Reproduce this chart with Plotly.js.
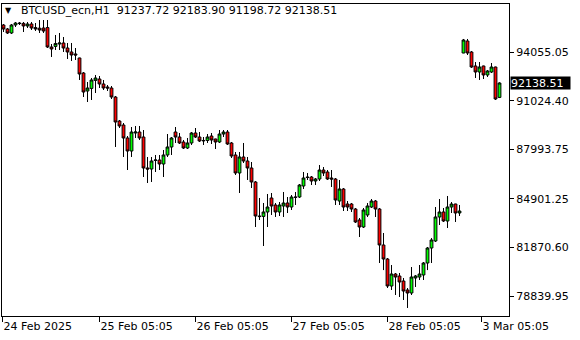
<!DOCTYPE html>
<html>
<head>
<meta charset="utf-8">
<script src="https://cdn.plot.ly/plotly-3.0.1.min.js"></script>
<style>
  html, body { margin: 0; padding: 0; background: #fff; }
  #chart { width: 580px; height: 340px; }
</style>
</head>
<body>
<div id="chart"></div>
<script>
// ---- Data (BTCUSD_ecn, H1) ----
const symbolTitle = "BTCUSD_ecn,H1";

const openP = [
95759, 95510, 95260, 95759, 95884, 95860, 95697, 95822, 95600, 95560,
95570, 95600, 94386, 94420, 94573, 94636, 94323, 94074, 93950, 93700,
92763, 91639, 91800, 92300, 92388, 92076, 91888, 91826, 91264, 89766,
89516, 88705, 87893, 89017, 89079, 88767, 86832, 86769, 87300, 87331,
87082, 87644, 88143, 89079, 88767, 88455, 88080, 88393, 89017, 88767,
88520, 88550, 88829, 88642, 88455, 88954, 89079, 88393, 87644, 86520,
87519, 87269, 86832, 85958, 83835, 83810, 84085, 84959, 84522, 84085,
84460, 84647, 84397, 85021, 85021, 85708, 86270, 86270, 86020, 86145,
86707, 86582, 86207, 86145, 84771, 85521, 84584, 84584, 84272, 83585,
83148, 83898, 84397, 84771, 84272, 82025, 81150, 79465, 80214, 80089,
79777, 79215, 79028, 79965, 80027, 80152, 80901, 81837, 82274, 83773,
84085, 83523, 84397, 84584, 84022, 94011, 94761, 94074, 93200, 92825,
93200, 92638, 92825, 93137, 91237.72
];

const highP = [
95822, 95572, 95822, 95947, 95947, 95947, 95947, 95947, 95884, 96071,
96071, 96071, 94573, 95135, 95260, 95010, 94636, 94636, 94323, 93720,
92825, 92201, 92451, 92638, 92575, 92326, 92013, 91951, 91327, 89828,
89641, 88829, 89391, 89454, 89454, 89204, 87519, 87519, 87644, 87644,
87955, 88954, 88767, 89391, 89017, 88580, 88705, 89079, 89329, 89079,
88767, 88954, 89017, 88660, 89204, 89204, 89204, 88455, 87831, 87831,
88393, 87519, 87206, 86020, 84959, 84647, 85209, 85271, 84647, 84709,
85334, 85021, 85146, 85334, 85833, 86582, 86520, 86332, 86207, 87019,
86894, 86707, 86707, 86207, 86083, 85583, 84771, 84647, 84335, 83710,
84335, 84647, 84896, 84834, 84335, 82774, 81213, 80776, 80277, 80277,
79965, 79340, 80651, 80152, 80776, 80963, 81900, 82462, 84397, 84896,
84335, 85084, 84709, 84600, 84522, 94886, 94886, 94136, 93449, 93449,
93220, 92950, 93387, 93160, 92183.90
];

const lowP = [
95322, 95198, 95198, 95634, 95759, 95322, 95572, 95447, 95385, 95260,
95260, 94323, 93762, 94199, 94199, 94074, 93637, 93512, 93574, 92326,
91264, 90952, 91077, 91514, 91826, 91701, 91639, 91139, 88143, 89329,
87519, 86707, 87519, 88705, 88580, 86270, 85895, 85958, 86582, 86707,
86270, 87519, 87644, 88393, 88330, 88018, 88018, 88268, 88705, 88455,
88268, 88393, 88330, 88018, 88393, 88767, 88268, 87456, 86395, 85271,
87144, 86083, 85583, 83148, 83585, 81962, 83148, 83898, 83773, 83835,
83773, 84022, 84210, 84522, 84959, 85521, 86083, 85770, 85770, 86020,
86332, 86083, 85646, 84522, 84522, 84147, 84147, 84085, 83398, 82524,
83086, 83773, 84335, 83773, 80901, 80459, 79340, 79215, 78903, 78778,
78591, 78092, 78903, 79403, 79840, 79840, 80459, 80901, 82212, 83273,
83461, 83086, 84022, 83461, 83835, 94000, 93886, 93075, 92451, 92326,
92388, 92513, 92763, 91077, 91198.72
];

const closeP = [
95510, 95260, 95759, 95884, 95850, 95697, 95822, 95572, 95510, 95447,
95385, 94386, 94261, 94600, 94636, 94323, 94074, 93886, 93886, 92700,
91576, 91826, 92326, 92451, 92076, 91826, 91826, 91264, 89703, 89454,
88705, 87893, 89079, 89079, 88705, 86832, 86769, 87269, 87331, 87082,
87644, 88143, 88705, 88767, 88393, 88080, 88393, 89017, 88767, 88517,
88550, 88767, 88580, 88455, 88954, 89079, 88330, 87581, 86520, 87519,
87269, 86832, 85958, 83835, 83800, 84085, 84397, 84460, 84085, 84522,
84647, 84397, 85021, 85000, 85770, 86207, 86240, 86020, 86145, 86707,
86520, 86145, 86145, 84834, 85521, 84397, 84397, 84272, 83461, 83148,
84210, 84460, 84771, 84272, 82025, 81150, 79465, 80214, 80027, 79715,
79153, 79028, 80027, 80089, 80214, 80901, 81837, 82337, 83773, 84085,
83523, 84397, 84584, 84022, 84147, 94823, 94011, 93137, 92825, 93137,
92638, 92888, 93137, 91139, 92138.51
];

const priceTicks = [94055.05, 91024.40, 87993.75, 84901.25, 81870.60, 78839.95];
const timeLabels = ["24 Feb 2025", "25 Feb 05:05", "26 Feb 05:05", "27 Feb 05:05", "28 Feb 05:05", "3 Mar 05:05"];
const timeTickBars = [-0.25, 24, 48, 72, 96, 119.5];

// ---- Chart ----
const barIndex = closeP.map((_, i) => i);
const last = closeP.length - 1;
const FONT = "DejaVu Sans, Verdana, sans-serif";

const trace = {
  type: "candlestick",
  x: barIndex,
  open: openP, high: highP, low: lowP, close: closeP,
  increasing: { line: { color: "#000000", width: 1 }, fillcolor: "#00ff00" },
  decreasing: { line: { color: "#000000", width: 1 }, fillcolor: "#ff0000" },
  whiskerwidth: 0,
  hoverinfo: "skip"
};

const layout = {
  width: 580, height: 340,
  margin: { l: 2, r: 71, t: 4, b: 24, pad: 0 },
  paper_bgcolor: "#ffffff", plot_bgcolor: "#ffffff",
  showlegend: false,
  boxgap: 0,
  font: { family: FONT, size: 11, color: "#000000" },
  xaxis: {
    range: [-0.375, 126.375],
    rangeslider: { visible: false },
    showgrid: false, zeroline: false,
    showline: true, linecolor: "#000000", linewidth: 1, mirror: true,
    tickmode: "array", tickvals: timeTickBars, ticktext: timeLabels,
    ticks: "outside", ticklen: 5, tickcolor: "#000000", tickwidth: 1,
    ticklabelposition: "outside right",
    tickfont: { family: FONT, size: 11, color: "#000000" },
    fixedrange: true
  },
  yaxis: {
    side: "right",
    range: [77592, 97070],
    showgrid: false, zeroline: false,
    showline: true, linecolor: "#000000", linewidth: 1, mirror: true,
    tickmode: "array", tickvals: priceTicks, ticktext: priceTicks.map(v => v.toFixed(2)),
    ticks: "outside", ticklen: 4, tickcolor: "#000000", tickwidth: 1,
    tickfont: { family: FONT, size: 11, color: "#000000" },
    fixedrange: true
  },
  annotations: [
    {
      xref: "paper", yref: "paper", x: 0.0138, y: 0.978,
      xanchor: "center", yanchor: "middle", showarrow: false,
      text: "▼", font: { family: FONT, size: 8, color: "#000000" }
    },
    {
      xref: "paper", yref: "paper", x: 0.034, y: 0.978,
      xanchor: "left", yanchor: "middle", showarrow: false,
      text: symbolTitle + "\u00a0\u00a0" + [openP[last], highP[last], lowP[last], closeP[last]].map(v => v.toFixed(2)).join(" "),
      font: { family: FONT, size: 11, color: "#000000" }
    },
    {
      xref: "paper", yref: "y", x: 1, y: closeP[last],
      xanchor: "left", yanchor: "middle", xshift: 1, showarrow: false,
      text: closeP[last].toFixed(2),
      bgcolor: "#000000", borderpad: 0, width: 59, height: 12, align: "left",
      font: { family: FONT, size: 11, color: "#ffffff" }
    }
  ]
};

Plotly.newPlot("chart", [trace], layout, { staticPlot: true, displayModeBar: false });
</script>
</body>
</html>
